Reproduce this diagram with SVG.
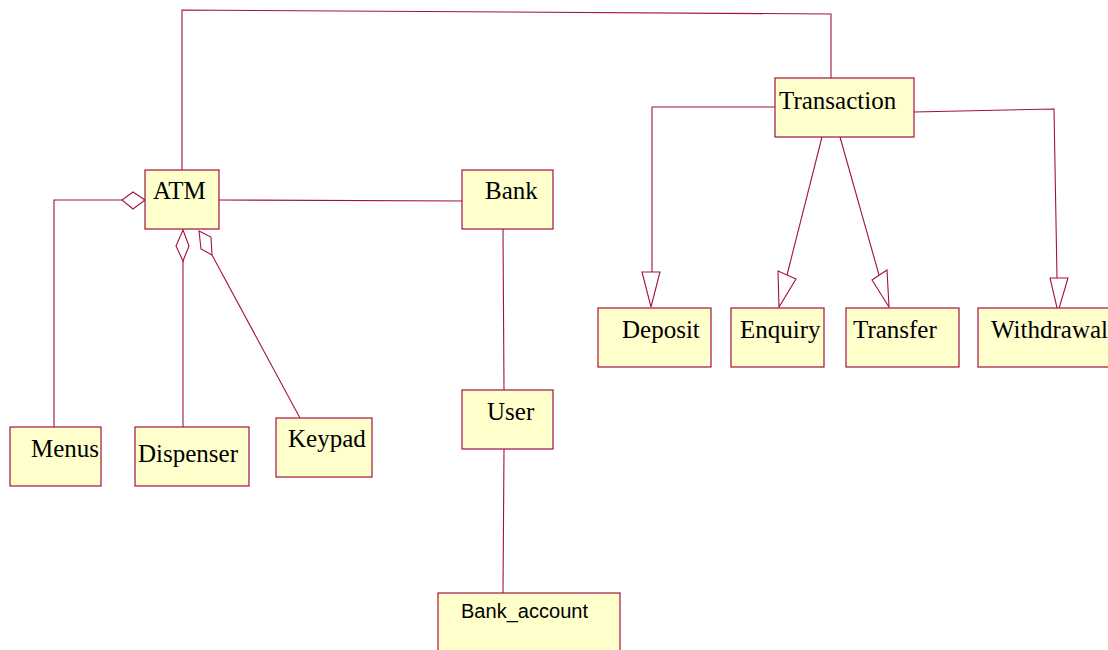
<svg xmlns="http://www.w3.org/2000/svg" width="1108" height="650" viewBox="0 0 1108 650">
<style>
.box{fill:#ffffcc;stroke:#a3123f;stroke-width:1.2}
.t{font-family:"Liberation Serif","Times New Roman",serif;font-size:25px;fill:#000}
.s{font-family:"Liberation Sans",Arial,sans-serif;font-size:20px;fill:#000}
.c{fill:none;stroke:#a3123f;stroke-width:1.1}
.h{fill:#fff;stroke:#a3123f;stroke-width:1.1}
</style>
<rect width="1108" height="650" fill="#fff"/>
<g id="connectors">
<polyline class="c" points="182,170 182,10 831,14 831,78"/>
<polyline class="c" points="122,200 54,200 54,427"/>
<polygon class="h" points="145,200 133,192 122,200 133,209"/>
<line class="c" x1="183" y1="261" x2="183" y2="427"/>
<polygon class="h" points="183,230 189,246 183,261 176,246"/>
<line class="c" x1="212" y1="255" x2="300" y2="418"/>
<polygon class="h" points="199,231 211,237 212,255 201,249"/>
<line class="c" x1="219" y1="200" x2="466" y2="201"/>
<line class="c" x1="503" y1="229" x2="504" y2="390"/>
<line class="c" x1="504" y1="449" x2="503" y2="593"/>
<polyline class="c" points="775,107 652,107 652,272"/>
<polygon class="h" points="642,272 660,272 651,307"/>
<line class="c" x1="822" y1="137" x2="787" y2="275"/>
<polygon class="h" points="778,271 796,279 779,307"/>
<line class="c" x1="840" y1="137" x2="879" y2="275"/>
<polygon class="h" points="872,280 887,270 889,307"/>
<polyline class="c" points="914,112 1054,109 1057,278"/>
<polygon class="h" points="1050,278 1068,278 1058,312"/>
</g>
<g id="ATM"><rect class="box" x="145" y="170" width="74" height="59"/><text class="t" x="153" y="199">ATM</text></g>
<g id="Bank"><rect class="box" x="462" y="170" width="91" height="59"/><text class="t" x="485" y="199">Bank</text></g>
<g id="User"><rect class="box" x="462" y="390" width="91" height="59"/><text class="t" x="487" y="420">User</text></g>
<g id="Bank_account"><rect class="box" x="438" y="593" width="182" height="70"/><text class="s" x="461" y="618" textLength="127" lengthAdjust="spacingAndGlyphs">Bank_account</text></g>
<g id="Menus"><rect class="box" x="10" y="427" width="91" height="59"/><text class="t" x="31" y="457">Menus</text></g>
<g id="Dispenser"><rect class="box" x="135" y="427" width="114" height="59"/><text class="t" x="138" y="462">Dispenser</text></g>
<g id="Keypad"><rect class="box" x="276" y="418" width="96" height="59"/><text class="t" x="288" y="447">Keypad</text></g>
<g id="Transaction"><rect class="box" x="775" y="78" width="139" height="59"/><text class="t" x="779" y="109">Transaction</text></g>
<g id="Deposit"><rect class="box" x="598" y="308" width="113" height="59"/><text class="t" x="622" y="338">Deposit</text></g>
<g id="Enquiry"><rect class="box" x="731" y="308" width="93" height="59"/><text class="t" x="740" y="338">Enquiry</text></g>
<g id="Transfer"><rect class="box" x="846" y="308" width="113" height="59"/><text class="t" x="853" y="338">Transfer</text></g>
<g id="Withdrawal"><rect class="box" x="978" y="308" width="140" height="59"/><text class="t" x="991" y="338">Withdrawal</text></g>
</svg>
